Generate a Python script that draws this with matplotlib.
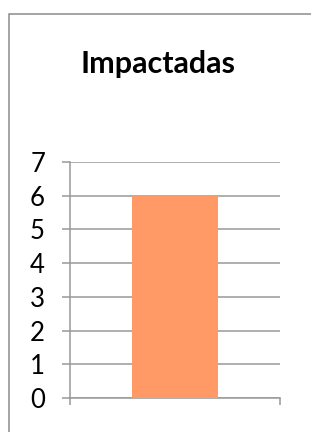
import matplotlib.pyplot as plt
from matplotlib.patches import Rectangle

# chart data
categories = ['']
values = [6]
y_ticks = [0, 1, 2, 3, 4, 5, 6, 7]

plt.rcParams['font.family'] = ['Lato', 'DejaVu Sans']

fig = plt.figure(figsize=(3.11, 4.32), dpi=100)

# Excel-style chart border, cut off at right and bottom
fig.patches.append(Rectangle((9 / 311, -0.05), 1.2, 1 - 14 / 432 + 0.05,
                             transform=fig.transFigure, fill=False,
                             edgecolor='#8c8c8c', linewidth=1.1))

ax = fig.add_axes([70 / 311, 34 / 432, 210 / 311, 236 / 432])
ax.bar(range(len(categories)), values, width=0.405, color='#FF9966', zorder=3)

ax.set_xlim(-0.5, 0.5)
ax.set_ylim(0, 7)
ax.set_yticks(y_ticks)
ax.set_xticks([-0.5, 0.5])
ax.set_xticklabels(['', ''])

ax.grid(axis='y', color='#999999', linewidth=1.1, zorder=0)
for side in ['top', 'right']:
    ax.spines[side].set_visible(False)
for side in ['left', 'bottom']:
    ax.spines[side].set_color('#999999')
    ax.spines[side].set_linewidth(1.1)

ax.tick_params(axis='y', length=6, width=1.1, color='#999999', pad=12,
               labelsize=18.5, labelcolor='black')
ax.tick_params(axis='x', length=5, width=1.1, color='#999999')

fig.text(158 / 311, 1 - 73 / 432, 'Impactadas', ha='center', va='baseline',
         fontsize=22, fontweight='bold')

fig.savefig('out.png', dpi=100)
